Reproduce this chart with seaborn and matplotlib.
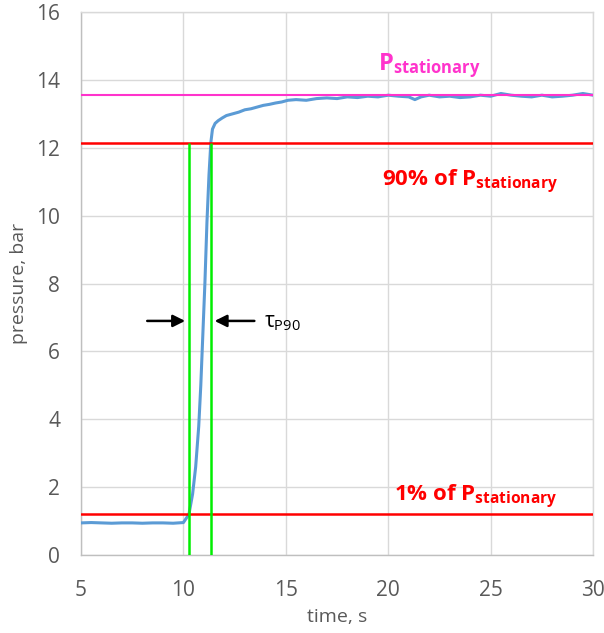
import matplotlib
matplotlib.use("Agg")
import matplotlib.pyplot as plt
import seaborn as sns
import pandas as pd

# ---- data ----
time_s = [5.0, 5.5, 6.0, 6.5, 7.0, 7.5, 8.0, 8.5, 9.0, 9.5, 10.0, 10.27,
          10.45, 10.6, 10.75, 10.85, 10.95, 11.05, 11.15, 11.25, 11.34,
          11.42, 11.55, 11.7, 11.9, 12.1, 12.4, 12.7, 13.0, 13.3, 13.6,
          13.9, 14.2, 14.5, 14.8, 15.1, 15.5, 16.0, 16.5, 17.0, 17.5,
          18.0, 18.5, 19.0, 19.5, 20.0, 20.5, 21.0, 21.3, 21.6, 22.0,
          22.5, 23.0, 23.5, 24.0, 24.5, 25.0, 25.5, 26.0, 26.5, 27.0,
          27.5, 28.0, 28.5, 29.0, 29.5, 30.0]
pressure_bar = [0.95, 0.96, 0.95, 0.94, 0.95, 0.95, 0.94, 0.95, 0.95, 0.94, 0.96, 1.2,
                1.8, 2.6, 3.8, 5.0, 6.5, 8.0, 9.8, 11.2, 12.15,
                12.55, 12.72, 12.8, 12.88, 12.95, 13.0, 13.05, 13.12, 13.15, 13.2,
                13.25, 13.28, 13.32, 13.35, 13.4, 13.42, 13.4, 13.45, 13.47, 13.45,
                13.5, 13.48, 13.52, 13.5, 13.55, 13.52, 13.5, 13.42, 13.5, 13.55,
                13.5, 13.52, 13.48, 13.5, 13.55, 13.52, 13.6, 13.55, 13.52, 13.5,
                13.55, 13.5, 13.52, 13.55, 13.6, 13.55]

p_stationary = 13.55
p90 = 12.15
p1 = 1.2
t_start = 10.27
t_p90 = 11.34

x_ticks = [5, 10, 15, 20, 25, 30]
y_ticks = [0, 2, 4, 6, 8, 10, 12, 14, 16]

df = pd.DataFrame({"time": time_s, "pressure": pressure_bar})

sns.set_theme(style="whitegrid")
plt.rcParams["font.family"] = ["Open Sans", "DejaVu Sans"]
plt.rcParams["mathtext.fontset"] = "custom"
plt.rcParams["mathtext.rm"] = "Open Sans"
plt.rcParams["mathtext.it"] = "Open Sans"
plt.rcParams["mathtext.bf"] = "Open Sans:bold"

fig = plt.figure(figsize=(6.04, 6.33), dpi=100)
ax = fig.add_axes([0.134, 0.123, 0.848, 0.858])

sns.lineplot(data=df, x="time", y="pressure", ax=ax, color="#5B9BD5",
             linewidth=2.2, zorder=3)

ax.axhline(p_stationary, color="#FF33CC", linewidth=1.5, zorder=4)
ax.axhline(p90, color="#FF0000", linewidth=1.8, zorder=4)
ax.axhline(p1, color="#FF0000", linewidth=1.8, zorder=4)
ax.vlines([t_start, t_p90], 0, p90, color="#00EE00", linewidth=1.8, zorder=5)

ax.annotate("", xy=(t_start - 0.05, 6.9), xytext=(8.1, 6.9),
            arrowprops=dict(arrowstyle="-|>", color="black", lw=1.8,
                            mutation_scale=18))
ax.annotate("", xy=(t_p90 + 0.05, 6.9), xytext=(13.6, 6.9),
            arrowprops=dict(arrowstyle="-|>", color="black", lw=1.8,
                            mutation_scale=18))
ax.text(13.95, 6.85, r"$\tau_{\mathrm{P90}}$", fontsize=15, color="black",
        va="center", ha="left")

ax.text(19.5, 14.0, r"$\mathbf{P}_{\mathbf{stationary}}$", fontsize=17,
        color="#FF33CC", ha="left", va="bottom")
ax.text(19.7, 11.0, r"90% of $\mathbf{P}_{\mathbf{stationary}}$", fontsize=16,
        color="#FF0000", fontweight="bold", ha="left", va="center")
ax.text(20.3, 1.7, r"1% of $\mathbf{P}_{\mathbf{stationary}}$", fontsize=16,
        color="#FF0000", fontweight="bold", ha="left", va="center")

ax.set_xlim(5, 30)
ax.set_ylim(0, 16)
ax.set_xticks(x_ticks)
ax.set_yticks(y_ticks)
ax.tick_params(axis="both", labelsize=15, labelcolor="#595959", length=0)
ax.tick_params(axis="y", pad=15)
ax.tick_params(axis="x", pad=18)
ax.set_xlabel("time, s", fontsize=14, color="#595959", labelpad=5)
ax.set_ylabel("pressure, bar", fontsize=14, color="#595959", labelpad=6)
ax.grid(True, color="#D9D9D9", linewidth=1.0)
for s in ax.spines.values():
    s.set_color("#D9D9D9")
    s.set_linewidth(1.0)
ax.spines["left"].set_color("#BFBFBF")
ax.spines["bottom"].set_color("#BFBFBF")

fig.savefig("out.png", dpi=100, facecolor="white")
